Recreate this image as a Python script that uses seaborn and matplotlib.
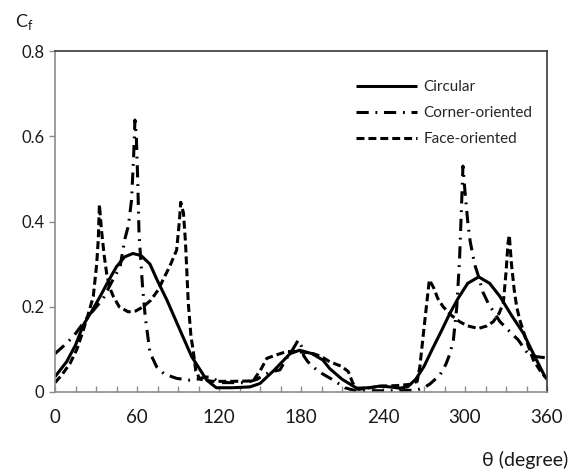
import numpy as np
import pandas as pd
import matplotlib
matplotlib.use("Agg")
import matplotlib.pyplot as plt
from matplotlib.ticker import MultipleLocator, FixedLocator
import seaborn as sns

# ---- data ----
circ_theta = [0, 8.5, 15, 20.7, 27, 33, 39, 45, 51, 57, 63, 69.5, 74.4, 82, 91.5, 100,
              111, 118, 130, 142.7, 150, 160, 172, 179, 188, 196, 201, 210, 220.7, 230,
              238, 245, 252, 258, 264, 270, 276, 283, 289, 295, 302, 310, 318, 325.6,
              334, 342.7, 350, 358.5, 360]
circ_cf = [0.036, 0.071, 0.11, 0.157, 0.19, 0.224, 0.26, 0.294, 0.317, 0.325, 0.32, 0.30,
           0.265, 0.215, 0.145, 0.083, 0.028, 0.01, 0.01, 0.012, 0.02, 0.05, 0.09, 0.098,
           0.09, 0.075, 0.055, 0.03, 0.009, 0.01, 0.014, 0.012, 0.009, 0.012, 0.03, 0.06,
           0.1, 0.145, 0.185, 0.22, 0.255, 0.27, 0.255, 0.224, 0.18, 0.138, 0.09, 0.036,
           0.033]

corner_theta = [0, 7, 13.4, 18, 23, 29, 35.4, 41, 47.6, 51.2, 53.7, 56, 57.5, 58.5, 59.5,
                60.5, 61.5, 64, 66, 69.5, 74.4, 80, 89, 98, 104, 110, 115, 120, 130, 140,
                148, 152.4, 158, 164.6, 169.5, 174, 178, 180, 182, 185, 190, 195, 203.6,
                212, 220, 240, 255, 265, 270, 274.4, 281.7, 286, 289, 291.5, 294, 296,
                297.5, 298.5, 300, 302, 303.7, 307, 310, 313, 317, 325.6, 333, 339, 346,
                352, 360]
corner_cf = [0.09, 0.11, 0.13, 0.15, 0.172, 0.195, 0.22, 0.255, 0.294, 0.36, 0.39, 0.45,
             0.55, 0.638, 0.6, 0.5, 0.37, 0.25, 0.177, 0.092, 0.059, 0.042, 0.032, 0.028,
             0.03, 0.035, 0.035, 0.022, 0.022, 0.022, 0.03, 0.04, 0.047, 0.052, 0.079,
             0.1, 0.122, 0.11, 0.085, 0.071, 0.056, 0.044, 0.028, 0.01, 0.003, 0.003,
             0.003, 0.005, 0.01, 0.019, 0.04, 0.065, 0.09, 0.122, 0.2, 0.31, 0.44, 0.53,
             0.47, 0.4, 0.355, 0.3, 0.27, 0.235, 0.208, 0.165, 0.141, 0.122, 0.09, 0.083,
             0.08]

face_theta = [0, 5, 11, 16, 20.7, 25, 28, 30.5, 31.7, 32.5, 34, 36, 37.8, 40, 42.7, 47,
              53.6, 59, 64.6, 70, 75.6, 79, 84, 89, 91, 92, 94, 95.5, 97.5, 99.5, 101,
              103, 106, 115, 130, 145, 151, 155, 162, 169.5, 176, 183, 189, 195, 201,
              205, 209.8, 214.6, 218, 222, 230, 240, 250, 260, 265, 267, 270, 273.9, 277,
              280, 284, 290, 296, 302, 309.8, 316, 320.7, 325, 328, 330, 331.5, 332.4,
              334, 336, 337.8, 340, 345, 350, 355, 360]
face_cf = [0.022, 0.04, 0.067, 0.1, 0.145, 0.19, 0.224, 0.3, 0.36, 0.44, 0.38, 0.32,
           0.278, 0.245, 0.224, 0.2, 0.188, 0.19, 0.2, 0.215, 0.24, 0.263, 0.295, 0.333,
           0.4, 0.445, 0.42, 0.35, 0.21, 0.13, 0.1, 0.05, 0.03, 0.025, 0.025, 0.026,
           0.055, 0.079, 0.087, 0.095, 0.095, 0.093, 0.09, 0.083, 0.071, 0.066, 0.06,
           0.048, 0.02, 0.006, 0.01, 0.014, 0.015, 0.018, 0.025, 0.06, 0.15, 0.263,
           0.245, 0.22, 0.2, 0.18, 0.165, 0.155, 0.149, 0.155, 0.165, 0.185, 0.208,
           0.28, 0.35, 0.368, 0.3, 0.24, 0.2, 0.17, 0.12, 0.075, 0.05, 0.03]

series_names = ["Circular", "Corner-oriented", "Face-oriented"]
x_ticks = [0, 60, 120, 180, 240, 300, 360]
y_ticks = [0, 0.2, 0.4, 0.6, 0.8]
y_tick_labels = ["0", "0.2", "0.4", "0.6", "0.8"]

# ---- figure ----
sns.set_theme(style="white")
plt.rcParams["font.family"] = ["Lato", "DejaVu Sans"]

fig = plt.figure(figsize=(5.73, 4.73), dpi=100)
ax = fig.add_axes([55 / 573, 1 - 392 / 473, 492 / 573, 341 / 473])

lw = 2.2
datasets = [(circ_theta, circ_cf), (corner_theta, corner_cf), (face_theta, face_cf)]
dash_patterns = [None, (4.0, 2.2, 0.6, 2.2), (2.6, 1.3)]
for name, (xs, ys), dp in zip(series_names, datasets, dash_patterns):
    df = pd.DataFrame({"theta": xs, "cf": ys})
    sns.lineplot(data=df, x="theta", y="cf", ax=ax, color="black", linewidth=lw,
                 label=name, sort=False, estimator=None)
    line = ax.lines[-1]
    if dp is not None:
        line.set_dashes(dp)
    line.set_solid_capstyle("butt")
    line.set_dash_capstyle("butt")

ax.set_xlim(0, 360)
ax.set_ylim(0, 0.8)
ax.xaxis.set_major_locator(FixedLocator(x_ticks))
ax.xaxis.set_minor_locator(MultipleLocator(15))
ax.set_xticklabels([str(t) for t in x_ticks])
ax.yaxis.set_major_locator(FixedLocator(y_ticks))
ax.set_yticklabels(y_tick_labels)
ax.set_xlabel("")
ax.set_ylabel("")

ax.tick_params(axis="x", which="both", direction="in", length=4, width=1,
               color="#8c8c8c", labelsize=13.5, pad=12, labelcolor="#1a1a1a",
               bottom=True)
ax.tick_params(axis="y", which="major", direction="out", length=4.3, width=1,
               color="#8c8c8c", labelsize=12, pad=3.5, labelcolor="#1a1a1a",
               left=True)

for side in ["left", "bottom"]:
    ax.spines[side].set_color("#8c8c8c")
    ax.spines[side].set_linewidth(1.2)
for side in ["top", "right"]:
    ax.spines[side].set_color("#3a3a3a")
    ax.spines[side].set_linewidth(1.2)

leg = ax.legend(loc="upper left", bbox_to_anchor=(356 / 573, 1 - 80 / 473),
                bbox_transform=fig.transFigure, frameon=False, fontsize=11,
                handlelength=4.0, handletextpad=0.4, labelspacing=0.8,
                borderpad=0, borderaxespad=0)
for h in leg.get_lines():
    h.set_linewidth(lw)

fig.text(15 / 573, 1 - 22 / 473, r"C$_\mathregular{f}$", fontsize=13,
         ha="left", va="center", color="#1a1a1a")
fig.text(568 / 573, 1 - 460 / 473, "θ (degree)", fontsize=14,
         ha="right", va="center", color="#1a1a1a")

fig.savefig("out.png", dpi=100)
